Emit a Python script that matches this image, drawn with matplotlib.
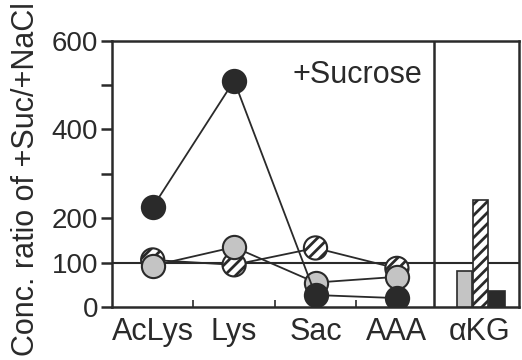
import numpy as np
import matplotlib
matplotlib.use('Agg')
import matplotlib.pyplot as plt

plt.rcParams['font.family'] = ['Liberation Sans', 'DejaVu Sans']
plt.rcParams['hatch.linewidth'] = 2.0
plt.rcParams['hatch.color'] = '#222222'

# categories on the line part and the bar part
categories = ['AcLys', 'Lys', 'Sac', 'AAA']
bar_category = 'αKG'

# ratio values
black_vals = [225, 510, 27, 20]
gray_vals = [93, 135, 55, 68]
hatch_vals = [106, 95, 133, 87]
akg_vals = [82, 240, 37]   # gray, hatched, black

yticks = [0, 100, 200, 400, 600]
ylabels = ['0', '100', '200', '400', '600']

ink = '#2a2a2a'
gray = '#c4c4c4'

fig = plt.figure(figsize=(5.22, 3.6), dpi=100)
ax = fig.add_axes([112/522, 1 - 307/360, (519 - 112)/522, (307 - 40.7)/360])

x = np.arange(len(categories))

# hatched series (bottom)
ax.plot(x, hatch_vals, color=ink, lw=1.3, zorder=2)
ax.scatter(x, hatch_vals, s=280, facecolor='white', edgecolor=ink,
           linewidth=1.5, hatch='///', zorder=3)
# gray series
ax.plot(x, gray_vals, color=ink, lw=1.3, zorder=4)
ax.scatter(x, gray_vals, s=280, facecolor=gray, edgecolor=ink,
           linewidth=1.5, zorder=5)
# black series (top)
ax.plot(x, black_vals, color=ink, lw=1.3, zorder=6)
ax.scatter(x, black_vals, s=280, facecolor=ink, edgecolor=ink,
           linewidth=1.5, zorder=7)

# alpha-KG bars
bw = 0.19
ax.bar(3.83, akg_vals[0], width=bw, color=gray, edgecolor=ink, lw=1.2, zorder=3)
ax.bar(4.03, akg_vals[1], width=bw, color='white', edgecolor=ink, lw=1.2,
       hatch='///', zorder=3)
ax.bar(4.23, akg_vals[2], width=bw, color=ink, edgecolor=ink, lw=1.2, zorder=3)

ax.axhline(100, color=ink, lw=1.5, zorder=1)
ax.axvline(3.46, color=ink, lw=1.8, zorder=1)

ax.set_xlim(-0.5, 4.5)
ax.set_ylim(0, 600)

ax.set_yticks(yticks)
ax.set_yticklabels(ylabels)
ax.set_yticks([300, 500], minor=True)
ax.tick_params(axis='y', which='both', direction='out', length=8, width=1.8,
               color=ink, labelcolor=ink, labelsize=20, pad=2)

ax.set_xticks([0.5, 1.5, 2.5])
ax.set_xticklabels([])
ax.set_xticks([0, 1, 2, 3, 4.02], minor=True)
ax.set_xticklabels(categories + [bar_category], minor=True)
ax.tick_params(axis='x', which='major', direction='in', length=5, width=1.2,
               color=ink)
ax.tick_params(axis='x', which='minor', length=0, labelsize=22,
               labelcolor=ink, pad=7)

for s in ax.spines.values():
    s.set_linewidth(1.8)
    s.set_color(ink)

fig.text(357/522, 1 - 75/360, '+Sucrose', fontsize=22, color=ink,
         ha='center', va='center')

fig.text(26/522, 0.503, 'Conc. ratio of +Suc/+NaCl', rotation=90,
         fontsize=22, color=ink, ha='center', va='center')

fig.savefig('out.png', dpi=100)
